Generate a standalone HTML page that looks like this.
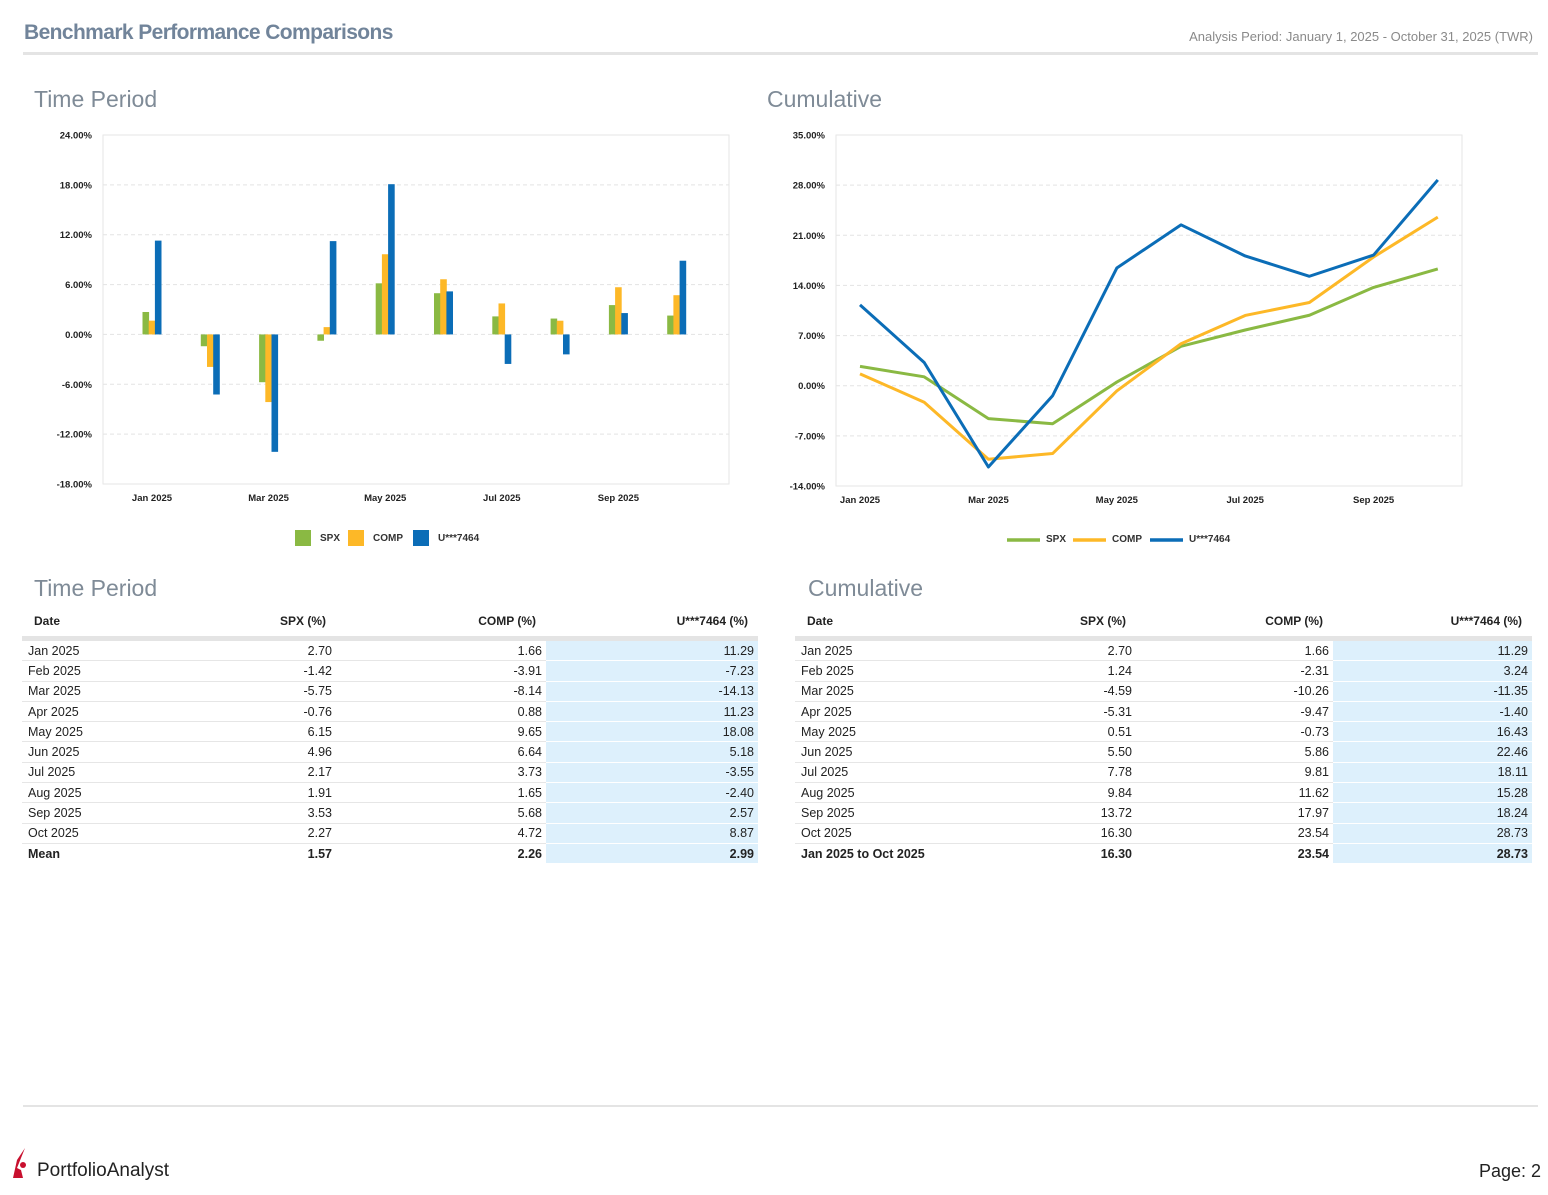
<!DOCTYPE html>
<html><head><meta charset="utf-8">
<style>
body{margin:0;width:1548px;height:1195px;position:relative;background:#fff;font-family:"Liberation Sans Narrow","Liberation Sans",sans-serif;overflow:hidden}
.abs{position:absolute}
.title{left:24px;top:21px;font-size:21px;color:#71849a;font-weight:bold;letter-spacing:-0.6px}
.period{right:15px;top:29px;font-size:13px;color:#8a8a8a}
.sec{font-size:23px;color:#7f8b97}
table{position:absolute;border-collapse:collapse;font-size:12.5px;color:#222;table-layout:fixed}
th{font-weight:bold;height:30px;vertical-align:middle;border-bottom:5px solid #e4e4e4;text-align:right;padding:0 10px 0 0;font-size:12px}
th.d{text-align:left;padding-left:12px}
td{height:19.3px;border-bottom:1px solid #e6e6e6;text-align:right;padding:0 4px 0 0}
td.d{text-align:left;padding-left:6px}
td.h{background:#ddf0fc;border-bottom:1px solid #fff}
tr.m td{font-weight:bold;border-bottom:none}
</style></head><body>
<div class="abs title">Benchmark Performance Comparisons</div>
<div class="abs period">Analysis Period: January 1, 2025 - October 31, 2025 (TWR)</div>
<div class="abs" style="left:23px;top:52px;width:1515px;height:3px;background:#e4e4e4"></div>
<div class="abs sec" style="left:34px;top:86px">Time Period</div>
<div class="abs sec" style="left:767px;top:86px">Cumulative</div>
<div class="abs sec" style="left:34px;top:575px">Time Period</div>
<div class="abs sec" style="left:808px;top:575px">Cumulative</div>

<svg class="abs" style="left:0;top:0" width="1548" height="560" id="charts" font-family="Liberation Sans Narrow, Liberation Sans, sans-serif"></svg>

<table style="left:22px;top:606px;width:736px">
<colgroup><col style="width:170px"><col style="width:144px"><col style="width:210px"><col style="width:212px"></colgroup>
<tr><th class="d">Date</th><th>SPX (%)</th><th>COMP (%)</th><th>U***7464 (%)</th></tr>
<tr><td class="d">Jan 2025</td><td>2.70</td><td>1.66</td><td class="h">11.29</td></tr>
<tr><td class="d">Feb 2025</td><td>-1.42</td><td>-3.91</td><td class="h">-7.23</td></tr>
<tr><td class="d">Mar 2025</td><td>-5.75</td><td>-8.14</td><td class="h">-14.13</td></tr>
<tr><td class="d">Apr 2025</td><td>-0.76</td><td>0.88</td><td class="h">11.23</td></tr>
<tr><td class="d">May 2025</td><td>6.15</td><td>9.65</td><td class="h">18.08</td></tr>
<tr><td class="d">Jun 2025</td><td>4.96</td><td>6.64</td><td class="h">5.18</td></tr>
<tr><td class="d">Jul 2025</td><td>2.17</td><td>3.73</td><td class="h">-3.55</td></tr>
<tr><td class="d">Aug 2025</td><td>1.91</td><td>1.65</td><td class="h">-2.40</td></tr>
<tr><td class="d">Sep 2025</td><td>3.53</td><td>5.68</td><td class="h">2.57</td></tr>
<tr><td class="d">Oct 2025</td><td>2.27</td><td>4.72</td><td class="h">8.87</td></tr>
<tr class="m"><td class="d">Mean</td><td>1.57</td><td>2.26</td><td class="h">2.99</td></tr>
</table>

<table style="left:795px;top:606px;width:737px">
<colgroup><col style="width:195px"><col style="width:146px"><col style="width:197px"><col style="width:199px"></colgroup>
<tr><th class="d">Date</th><th>SPX (%)</th><th>COMP (%)</th><th>U***7464 (%)</th></tr>
<tr><td class="d">Jan 2025</td><td>2.70</td><td>1.66</td><td class="h">11.29</td></tr>
<tr><td class="d">Feb 2025</td><td>1.24</td><td>-2.31</td><td class="h">3.24</td></tr>
<tr><td class="d">Mar 2025</td><td>-4.59</td><td>-10.26</td><td class="h">-11.35</td></tr>
<tr><td class="d">Apr 2025</td><td>-5.31</td><td>-9.47</td><td class="h">-1.40</td></tr>
<tr><td class="d">May 2025</td><td>0.51</td><td>-0.73</td><td class="h">16.43</td></tr>
<tr><td class="d">Jun 2025</td><td>5.50</td><td>5.86</td><td class="h">22.46</td></tr>
<tr><td class="d">Jul 2025</td><td>7.78</td><td>9.81</td><td class="h">18.11</td></tr>
<tr><td class="d">Aug 2025</td><td>9.84</td><td>11.62</td><td class="h">15.28</td></tr>
<tr><td class="d">Sep 2025</td><td>13.72</td><td>17.97</td><td class="h">18.24</td></tr>
<tr><td class="d">Oct 2025</td><td>16.30</td><td>23.54</td><td class="h">28.73</td></tr>
<tr class="m"><td class="d">Jan 2025 to Oct 2025</td><td>16.30</td><td>23.54</td><td class="h">28.73</td></tr>
</table>

<div class="abs" style="left:23px;top:1105px;width:1515px;height:2px;background:#e4e4e4"></div>
<svg class="abs" style="left:11px;top:1148px" width="20" height="32"><path d="M14 0 L6 12 L2 30 L12 30 L10 22 L6 20 Z" fill="#c8102e"/><circle cx="12" cy="17" r="3" fill="#c8102e"/></svg>
<div class="abs" style="left:37px;top:1160px;font-size:19px;color:#222;font-family:'Liberation Sans',sans-serif">PortfolioAnalyst</div>
<div class="abs" style="right:7px;top:1161px;font-size:18px;color:#222;font-family:'Liberation Sans',sans-serif">Page: 2</div>

<script>
const months = ["Jan 2025","Feb 2025","Mar 2025","Apr 2025","May 2025","Jun 2025","Jul 2025","Aug 2025","Sep 2025","Oct 2025"];
const seriesNames = ["SPX","COMP","U***7464"];
const spxPeriod = [2.70,-1.42,-5.75,-0.76,6.15,4.96,2.17,1.91,3.53,2.27];
const compPeriod = [1.66,-3.91,-8.14,0.88,9.65,6.64,3.73,1.65,5.68,4.72];
const acctPeriod = [11.29,-7.23,-14.13,11.23,18.08,5.18,-3.55,-2.40,2.57,8.87];
const spxCum = [2.70,1.24,-4.59,-5.31,0.51,5.50,7.78,9.84,13.72,16.30];
const compCum = [1.66,-2.31,-10.26,-9.47,-0.73,5.86,9.81,11.62,17.97,23.54];
const acctCum = [11.29,3.24,-11.35,-1.40,16.43,22.46,18.11,15.28,18.24,28.73];
const barTicks = [-18,-12,-6,0,6,12,18,24];
const lineTicks = [-14,-7,0,7,14,21,28,35];
const xLabelIdx = [0,2,4,6,8];
const colors = ["#8ab943","#fdb827","#0b6db7"];

const NS="http://www.w3.org/2000/svg";
const svg=document.getElementById('charts');
function mk(tag,attrs,parent){const e=document.createElementNS(NS,tag);for(const k in attrs)e.setAttribute(k,attrs[k]);(parent||svg).appendChild(e);return e;}

// ---- Bar chart ----
const bL=103,bR=729,bT=135,bB=484;
const byS=v=>bB-(v-(-18))/(42)*(bB-bT);
const bxS=i=>152+i*58.3;
const g1=mk('g',{});


mk('rect',{x:bL,y:bT,width:bR-bL,height:bB-bT,fill:'none',stroke:'#e6e6e6'},g1);
barTicks.forEach(t=>{
  const y=byS(t);
  if(t>-18&&t<24){const l=mk('line',{x1:bL,x2:bR,y1:y,y2:y,stroke:'#e3e3e3','stroke-dasharray':'4,3'},g1);
  }
  const tx=mk('text',{x:92,y:y+3.5,'text-anchor':'end','font-size':9.5,'font-weight':'bold',fill:'#222'},g1);
  tx.textContent=t.toFixed(2)+'%';
  
});
xLabelIdx.forEach(i=>{const tx=mk('text',{x:bxS(i),y:501,'text-anchor':'middle','font-size':9.5,'font-weight':'bold',fill:'#222'},g1);tx.textContent=months[i];
  });
[spxPeriod,compPeriod,acctPeriod].forEach((arr,s)=>{
  arr.forEach((v,i)=>{
    const x=bxS(i)-9.5+s*6.2;
    const y0=byS(0),y1=byS(v);
    const r=mk('rect',{x:x,y:Math.min(y0,y1),width:6.6,height:Math.abs(y1-y0),fill:colors[s]},g1);
    
    
  });
});
const barLegX=[295,348,413];
seriesNames.forEach((n,s)=>{
  const r=mk('rect',{x:barLegX[s],y:530,width:16,height:16,fill:colors[s]},g1);
  
  const t=mk('text',{x:barLegX[s]+25,y:541,'font-size':10,'font-weight':'bold',fill:'#333'},g1);t.textContent=n;
  
});

// ---- Line chart ----
const lL=836,lR=1462,lT=135,lB=486;
const lyS=v=>lB-(v-(-14))/49*(lB-lT);
const lxS=i=>860+i*64.2;
const g2=mk('g',{});


mk('rect',{x:lL,y:lT,width:lR-lL,height:lB-lT,fill:'none',stroke:'#e6e6e6'},g2);
lineTicks.forEach(t=>{
  const y=lyS(t);
  if(t>-14&&t<35){const l=mk('line',{x1:lL,x2:lR,y1:y,y2:y,stroke:'#e3e3e3','stroke-dasharray':'4,3'},g2);
  }
  const tx=mk('text',{x:825,y:y+3.5,'text-anchor':'end','font-size':9.5,'font-weight':'bold',fill:'#222'},g2);
  tx.textContent=t.toFixed(2)+'%';
  
});
xLabelIdx.forEach(i=>{const tx=mk('text',{x:lxS(i),y:503,'text-anchor':'middle','font-size':9.5,'font-weight':'bold',fill:'#222'},g2);tx.textContent=months[i];
  });
[spxCum,compCum,acctCum].forEach((arr,s)=>{
  const p=mk('polyline',{points:arr.map((v,i)=>lxS(i)+','+lyS(v)).join(' '),fill:'none',stroke:colors[s],'stroke-width':3,'stroke-linejoin':'round'},g2);
  
  
});
const lineLegX=[1007,1073,1150];
seriesNames.forEach((n,s)=>{
  const l=mk('line',{x1:lineLegX[s],x2:lineLegX[s]+33,y1:540,y2:540,stroke:colors[s],'stroke-width':3.5},g2);
  
  const t=mk('text',{x:lineLegX[s]+39,y:542,'font-size':10,'font-weight':'bold',fill:'#333'},g2);t.textContent=n;
  
});
</script>
</body></html>
